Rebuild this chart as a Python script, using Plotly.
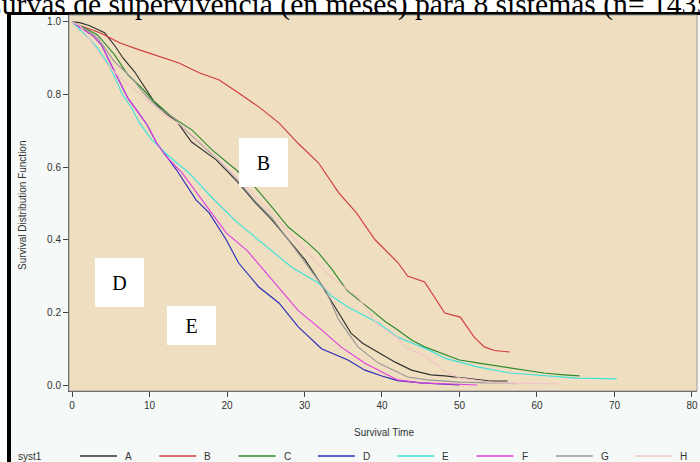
import plotly.graph_objects as go

# ---------------- data ----------------
systems = ["A", "B", "C", "D", "E", "F", "G", "H"]
colors = ["#333333", "#d23c3c", "#2f8a2f", "#2c2cbc", "#40e2dc", "#e040e0", "#999999", "#f2c6c6"]

t_A = [0, 1, 2.2, 4.2, 5.5, 6.6, 8.1, 9.4, 10.6, 11.9, 13.6, 15.4, 18.6, 21.5, 23.7, 25.8, 27.9, 30.1, 31.8, 33.5, 36.0, 37.5, 39.5, 41.7, 43.8, 46.3, 48.1, 51.9, 54, 56.2]
s_A = [1, 0.998, 0.99, 0.97, 0.935, 0.90, 0.862, 0.82, 0.78, 0.752, 0.724, 0.67, 0.62, 0.556, 0.501, 0.455, 0.40, 0.344, 0.289, 0.23, 0.143, 0.115, 0.091, 0.063, 0.041, 0.028, 0.025, 0.017, 0.011, 0.011]

t_B = [0, 1, 3.6, 6.2, 8.7, 11.3, 13.8, 16.4, 19, 21.5, 24.1, 26.7, 29.2, 31.8, 34.4, 36.7, 39.1, 42.1, 43.3, 45.5, 48.1, 50.1, 51.9, 53.2, 54.5, 56.5]
s_B = [1, 0.99, 0.97, 0.942, 0.923, 0.904, 0.887, 0.86, 0.84, 0.804, 0.766, 0.722, 0.665, 0.612, 0.53, 0.474, 0.40, 0.336, 0.30, 0.284, 0.198, 0.187, 0.132, 0.105, 0.095, 0.091]

t_C = [0, 1, 3.3, 5.5, 7.2, 9.0, 10.4, 12.9, 15.5, 18.1, 21.2, 23.7, 25.8, 27.9, 30.5, 31.8, 33.5, 35.5, 38.6, 40.4, 42, 43.8, 45.5, 48.1, 50, 52.3, 56.5, 60.9, 63.5, 65.5]
s_C = [1, 0.99, 0.964, 0.909, 0.854, 0.818, 0.785, 0.738, 0.702, 0.647, 0.592, 0.543, 0.49, 0.435, 0.39, 0.364, 0.32, 0.26, 0.207, 0.175, 0.152, 0.124, 0.105, 0.083, 0.069, 0.061, 0.047, 0.033, 0.028, 0.025]

t_D = [0, 1, 2.6, 3.8, 5.1, 6.2, 7.2, 8.5, 9.7, 10.9, 12.2, 13.5, 16, 17.7, 19.9, 21.5, 24.1, 26.7, 29.2, 32.2, 35.6, 37.8, 40, 42, 45, 48, 50]
s_D = [1, 0.985, 0.964, 0.937, 0.88, 0.835, 0.79, 0.752, 0.716, 0.667, 0.628, 0.592, 0.51, 0.474, 0.40, 0.336, 0.27, 0.226, 0.16, 0.10, 0.069, 0.041, 0.025, 0.012, 0.006, 0.002, 0.0]

t_E = [0, 1, 2.1, 3.3, 4.5, 5.5, 6.5, 7.7, 8.7, 10.3, 12.6, 15.1, 18.1, 21.2, 24.1, 28.3, 31.8, 33.5, 35.6, 39.5, 42, 43.8, 46.3, 48.1, 52.3, 56.5, 60.9, 65.1, 70.3]
s_E = [1, 0.98, 0.956, 0.928, 0.89, 0.848, 0.80, 0.763, 0.722, 0.675, 0.628, 0.584, 0.515, 0.45, 0.40, 0.325, 0.281, 0.245, 0.215, 0.171, 0.132, 0.116, 0.094, 0.074, 0.05, 0.033, 0.025, 0.019, 0.017]

t_F = [0, 1, 2.6, 3.8, 5.1, 6.2, 7.2, 8.5, 9.7, 10.9, 12.2, 14.2, 16.8, 19.9, 22.6, 25.8, 29.2, 32.2, 34.7, 37.8, 40, 42, 45, 48, 52.3]
s_F = [1, 0.985, 0.964, 0.937, 0.88, 0.835, 0.79, 0.752, 0.716, 0.667, 0.628, 0.584, 0.51, 0.419, 0.37, 0.289, 0.205, 0.152, 0.105, 0.06, 0.035, 0.014, 0.006, 0.003, 0.0]

t_G = [0, 1, 3.3, 5.5, 7.7, 9.4, 11, 13.2, 14.9, 18.6, 21.5, 23.7, 25.8, 27.6, 30.5, 32.7, 34.4, 36.9, 39.5, 42, 43.3, 45.9, 50, 54, 57.4]
s_G = [1, 0.99, 0.956, 0.89, 0.846, 0.80, 0.766, 0.735, 0.697, 0.625, 0.56, 0.505, 0.46, 0.408, 0.325, 0.262, 0.18, 0.105, 0.061, 0.036, 0.022, 0.014, 0.008, 0.006, 0.004]

t_H = [0, 1, 4.6, 6.8, 9.4, 11.9, 14.1, 18, 22, 25.5, 29.2, 33.5, 36.9, 39.5, 42, 43, 45.5, 48.3, 50.1, 54.5, 63]
s_H = [1, 0.99, 0.88, 0.835, 0.79, 0.744, 0.716, 0.64, 0.555, 0.48, 0.39, 0.295, 0.242, 0.165, 0.13, 0.105, 0.08, 0.036, 0.019, 0.006, 0.003]

x_ticks = [0, 10, 20, 30, 40, 50, 60, 70, 80]
y_ticks = [0.0, 0.2, 0.4, 0.6, 0.8, 1.0]

title_text = "Curvas de supervivencia (en meses) para 8 sistemas (n= 1435)"
x_title = "Survival Time"
y_title = "Survival Distribution Function"
legend_title = "syst1"
box_labels = ["B", "D", "E"]

series_t = [t_A, t_B, t_C, t_D, t_E, t_F, t_G, t_H]
series_s = [s_A, s_B, s_C, s_D, s_E, s_F, s_G, s_H]

# ---------------- layout geometry ----------------
W, H = 700, 462
ML, MR, MT, MB = 69, 3, 15, 71
PW, PH = W - ML - MR, H - MT - MB


def px(xp):
    return (xp - ML) / PW


def py(yp):
    return (H - MB - yp) / PH


fig = go.Figure()
for name, col, tt, ss in zip(systems, colors, series_t, series_s):
    fig.add_trace(go.Scatter(x=tt, y=ss, mode="lines", name=name,
                             line=dict(color=col, width=1.15), showlegend=False,
                             hoverinfo="skip"))

sans = "Liberation Sans"
serif = "Liberation Serif"
axis_col = "#444444"

shapes = []
annotations = []

# outer white strips and black frame
shapes.append(dict(type="rect", xref="paper", yref="paper", x0=px(0), x1=px(W), y0=py(12), y1=py(0),
                   fillcolor="white", line_width=0, layer="below"))
shapes.append(dict(type="rect", xref="paper", yref="paper", x0=px(0), x1=px(7), y0=py(H), y1=py(0),
                   fillcolor="white", line_width=0, layer="below"))

# title (cut off at the top/left like the reference)
annotations.append(dict(text=title_text, xref="paper", yref="paper", x=px(-20), y=py(5),
                        xanchor="left", yanchor="middle", showarrow=False,
                        font=dict(family=serif, size=29.6, color="black")))

# black frame drawn over the title's lower part
shapes.append(dict(type="rect", xref="paper", yref="paper", x0=px(7), x1=px(W), y0=py(15), y1=py(12),
                   fillcolor="black", line_width=0, layer="above"))
shapes.append(dict(type="rect", xref="paper", yref="paper", x0=px(7), x1=px(11), y0=py(H), y1=py(12),
                   fillcolor="black", line_width=0, layer="above"))
# plot frame
shapes.append(dict(type="rect", xref="paper", yref="paper", x0=0, x1=1, y0=0, y1=1,
                   line=dict(color="#9a9a9a", width=1), fillcolor="rgba(0,0,0,0)", layer="above"))

# axis titles
annotations.append(dict(text=x_title, xref="paper", yref="paper", x=px(384), y=py(432),
                        xanchor="center", yanchor="middle", showarrow=False,
                        font=dict(family=sans, size=10, color="#333333")))
annotations.append(dict(text=y_title, xref="paper", yref="paper", x=px(23), y=py(205),
                        xanchor="center", yanchor="middle", showarrow=False, textangle=-90,
                        font=dict(family=sans, size=10, color="#333333")))

# white label boxes
box_pos = [(263.5, 162.5, 49, 49), (119.5, 282.5, 49, 49), (191.5, 325.5, 49, 39)]
for lab, (cx, cy, bw, bh) in zip(box_labels, box_pos):
    annotations.append(dict(text=lab, xref="paper", yref="paper", x=px(cx), y=py(cy),
                            xanchor="center", yanchor="middle", showarrow=False,
                            width=bw, height=bh, bgcolor="white", borderpad=0, borderwidth=0,
                            font=dict(family=serif, size=20, color="black")))

# manual legend
ly = 456
annotations.append(dict(text=legend_title, xref="paper", yref="paper", x=px(16), y=py(ly),
                        xanchor="left", yanchor="middle", showarrow=False,
                        font=dict(family=sans, size=10, color="#333333")))
for i, (name, col) in enumerate(zip(systems, colors)):
    x0 = 80 + 79.3 * i
    shapes.append(dict(type="line", xref="paper", yref="paper", x0=px(x0), x1=px(x0 + 37),
                       y0=py(ly), y1=py(ly), line=dict(color=col, width=1.3), layer="above"))
    annotations.append(dict(text=name, xref="paper", yref="paper", x=px(x0 + 43), y=py(ly),
                            xanchor="left", yanchor="middle", showarrow=False,
                            font=dict(family=sans, size=10, color="#333333")))

fig.update_layout(
    width=W, height=H,
    margin=dict(l=ML, r=MR, t=MT, b=MB, pad=0),
    paper_bgcolor="#f5f9f7",
    plot_bgcolor="#efdebf",
    showlegend=False,
    shapes=shapes,
    annotations=annotations,
    xaxis=dict(range=[-0.39, 80.65], tickvals=x_ticks, ticktext=[str(v) for v in x_ticks],
               showgrid=False, zeroline=False, showline=True, linecolor=axis_col, linewidth=1,
               ticks="outside", ticklen=5, tickcolor=axis_col,
               tickfont=dict(family=sans, size=10, color="#333333")),
    yaxis=dict(range=[-0.0165, 1.019], tickvals=y_ticks, ticktext=[f"{v:.1f}" for v in y_ticks],
               showgrid=False, zeroline=False, showline=True, linecolor=axis_col, linewidth=1,
               ticks="outside", ticklen=5, tickcolor=axis_col,
               tickfont=dict(family=sans, size=10, color="#333333")),
)

fig.write_html("out.html", config={"displayModeBar": False, "staticPlot": True},
               post_script="document.body.style.margin='0';document.body.style.overflow='hidden';")
